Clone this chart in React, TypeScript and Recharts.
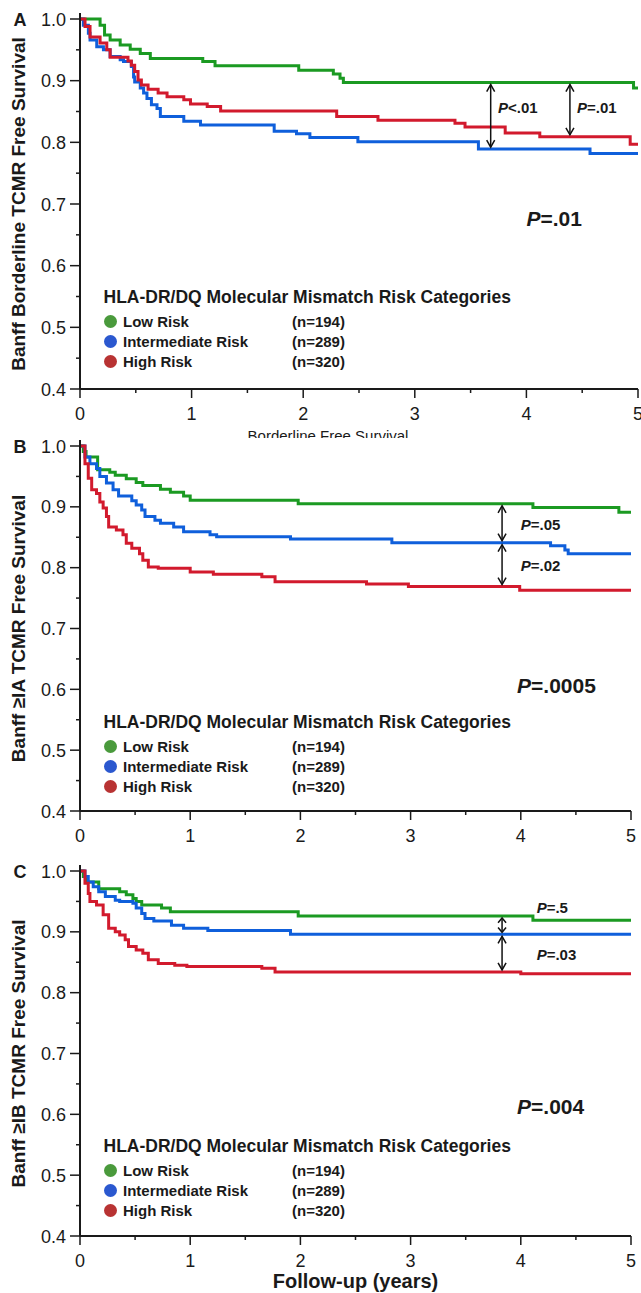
import React from 'react';
import { LineChart, Line, XAxis, YAxis, ReferenceLine, ReferenceDot, Legend } from 'recharts';

const FONT = '"Liberation Sans", Arial, Helvetica, sans-serif';
const INK = '#1a1a1a';

// groups shared by all three panels
const groups = ['Low Risk', 'Intermediate Risk', 'High Risk'];
const groupCounts = [194, 289, 320];
const lineColors = ['#1b9a22', '#0f5fdb', '#d21a2d'];
const dotColors = ['#4a9a3c', '#2b58cf', '#b83333'];

const xTicks = [0, 0.5, 1, 1.5, 2, 2.5, 3, 3.5, 4, 4.5, 5];
const yTicks = [0.4, 0.45, 0.5, 0.55, 0.6, 0.65, 0.7, 0.75, 0.8, 0.85, 0.9, 0.95, 1.0];

type Pt = [number, number];

// A: Banff borderline TCMR free survival  [years, survival]
const aLow: Pt[] = [[0, 1], [0.18, 0.99], [0.22, 0.974], [0.27, 0.966], [0.36, 0.958], [0.45, 0.951], [0.54, 0.944], [0.63, 0.936], [1.1, 0.931], [1.21, 0.924], [1.96, 0.917], [2.27, 0.911], [2.33, 0.904], [2.36, 0.897], [4.96, 0.888], [5, 0.888]];
const aInt: Pt[] = [[0, 1], [0.03, 0.99], [0.075, 0.977], [0.09, 0.966], [0.15, 0.955], [0.21, 0.95], [0.27, 0.939], [0.36, 0.934], [0.39, 0.931], [0.46, 0.923], [0.48, 0.906], [0.49, 0.898], [0.54, 0.888], [0.57, 0.88], [0.6, 0.871], [0.64, 0.861], [0.69, 0.855], [0.72, 0.842], [0.93, 0.834], [1.08, 0.828], [1.74, 0.818], [1.94, 0.814], [2.06, 0.808], [2.49, 0.801], [3.57, 0.789], [4.57, 0.782], [5, 0.782]];
const aHigh: Pt[] = [[0, 1], [0.045, 0.988], [0.09, 0.971], [0.18, 0.961], [0.24, 0.95], [0.27, 0.938], [0.43, 0.932], [0.46, 0.925], [0.49, 0.915], [0.52, 0.901], [0.55, 0.893], [0.61, 0.886], [0.7, 0.88], [0.78, 0.874], [0.93, 0.869], [0.99, 0.862], [1.14, 0.858], [1.26, 0.851], [2.3, 0.842], [2.67, 0.836], [3.36, 0.831], [3.45, 0.825], [3.81, 0.815], [4.12, 0.809], [4.93, 0.797], [5, 0.797]];
const aArrows = [{ t: 3.68, from: 0.897, to: 0.789 }, { t: 4.39, from: 0.897, to: 0.809 }];
const aPairP = [{ t: 3.745, s: 0.856, p: '<.01' }, { t: 4.453, s: 0.856, p: '=.01' }];
const aOverall = { t: 4.0, s: 0.676, p: '=.01' };

// B: Banff >= IA
const bLow: Pt[] = [[0, 1], [0.03, 0.991], [0.055, 0.982], [0.16, 0.961], [0.27, 0.957], [0.32, 0.952], [0.42, 0.946], [0.51, 0.94], [0.57, 0.935], [0.73, 0.929], [0.82, 0.924], [0.94, 0.918], [1.0, 0.911], [1.98, 0.905], [4.11, 0.899], [4.89, 0.891], [5, 0.891]];
const bInt: Pt[] = [[0, 1], [0.045, 0.982], [0.09, 0.971], [0.15, 0.963], [0.18, 0.95], [0.24, 0.939], [0.3, 0.928], [0.35, 0.918], [0.47, 0.91], [0.51, 0.903], [0.56, 0.895], [0.59, 0.884], [0.68, 0.878], [0.73, 0.873], [0.85, 0.867], [0.94, 0.859], [1.18, 0.854], [1.24, 0.851], [1.91, 0.847], [2.83, 0.841], [4.27, 0.836], [4.4, 0.829], [4.43, 0.823], [5, 0.823]];
const bHigh: Pt[] = [[0, 1], [0.045, 0.971], [0.075, 0.947], [0.106, 0.928], [0.15, 0.922], [0.18, 0.908], [0.21, 0.898], [0.24, 0.884], [0.26, 0.867], [0.33, 0.862], [0.39, 0.854], [0.42, 0.84], [0.47, 0.832], [0.54, 0.823], [0.57, 0.812], [0.62, 0.801], [0.71, 0.799], [1.0, 0.793], [1.21, 0.789], [1.65, 0.785], [1.77, 0.777], [2.6, 0.773], [2.98, 0.769], [3.99, 0.763], [5, 0.763]];
const bArrows = [{ t: 3.83, from: 0.905, to: 0.841 }, { t: 3.83, from: 0.841, to: 0.769 }];
const bPairP = [{ t: 4.0, s: 0.87, p: '=.05' }, { t: 4.0, s: 0.803, p: '=.02' }];
const bOverall = { t: 3.966, s: 0.607, p: '=.0005' };

// C: Banff >= IB
const cLow: Pt[] = [[0, 1], [0.03, 0.991], [0.06, 0.982], [0.17, 0.971], [0.36, 0.966], [0.42, 0.961], [0.48, 0.955], [0.51, 0.95], [0.56, 0.944], [0.74, 0.939], [0.82, 0.933], [1.98, 0.926], [4.11, 0.919], [5, 0.919]];
const cInt: Pt[] = [[0, 1], [0.045, 0.991], [0.075, 0.982], [0.12, 0.974], [0.17, 0.966], [0.23, 0.958], [0.32, 0.952], [0.36, 0.95], [0.48, 0.947], [0.51, 0.939], [0.56, 0.93], [0.59, 0.922], [0.67, 0.918], [0.83, 0.911], [0.94, 0.906], [1.16, 0.902], [1.91, 0.896], [5, 0.896]];
const cHigh: Pt[] = [[0, 1], [0.045, 0.98], [0.075, 0.963], [0.09, 0.95], [0.15, 0.944], [0.21, 0.928], [0.26, 0.906], [0.32, 0.9], [0.36, 0.895], [0.41, 0.887], [0.44, 0.876], [0.51, 0.87], [0.57, 0.865], [0.62, 0.854], [0.71, 0.848], [0.86, 0.845], [0.97, 0.843], [1.65, 0.84], [1.77, 0.834], [4.0, 0.831], [5, 0.831]];
const cArrows = [{ t: 3.83, from: 0.926, to: 0.896 }, { t: 3.83, from: 0.896, to: 0.834 }];
const cPairP = [{ t: 4.144, s: 0.94, p: '=.5' }, { t: 4.144, s: 0.863, p: '=.03' }];
const cOverall = { t: 3.966, s: 0.6135, p: '=.004' };

const rows = (pts: Pt[]) => pts.map(([t, s]) => ({ t, s }));
const isMajor = (v: number) => Math.abs(v * 10 - Math.round(v * 10)) < 1e-6;

const XTick = (props: any) => {
  const { x, y, payload } = props;
  const v = payload.value;
  const major = Number.isInteger(v);
  return (
    <g>
      <line x1={x} x2={x} y1={y} y2={y + (major ? 9 : 4)} stroke={INK} strokeWidth={1.5} />
      {major && (
        <text x={x} y={y + 30.5} textAnchor="middle" fontSize={18} fontFamily={FONT} fill={INK}>
          {v}
        </text>
      )}
    </g>
  );
};

const YTick = (props: any) => {
  const { x, y, payload } = props;
  const v = payload.value;
  const major = isMajor(v);
  return (
    <g>
      <line x1={x - (major ? 10 : 4)} x2={x} y1={y} y2={y} stroke={INK} strokeWidth={1.5} />
      {v > 0.999 && <line x1={x} x2={x} y1={y - 6} y2={y} stroke={INK} strokeWidth={2} />}
      {major && (
        <text x={x - 14} y={y + 6.5} textAnchor="end" fontSize={18} fontFamily={FONT} fill={INK}>
          {v.toFixed(1)}
        </text>
      )}
    </g>
  );
};

const Arrow = (props: any) => {
  const { x1, y1, y2 } = props;
  const top = Math.min(y1, y2) + 2;
  const bot = Math.max(y1, y2) - 2;
  const h = Math.min(7, (bot - top) / 3);
  return (
    <g stroke="#111" strokeWidth={1.5} fill="none">
      <line x1={x1} x2={x1} y1={top} y2={bot} />
      <polyline points={`${x1 - 4},${top + h} ${x1},${top} ${x1 + 4},${top + h}`} />
      <polyline points={`${x1 - 4},${bot - h} ${x1},${bot} ${x1 + 4},${bot - h}`} />
    </g>
  );
};

const pText = (p: string, size: number) => (props: any) => (
  <text x={props.cx} y={props.cy} dy="0.36em" fontSize={size} fontWeight="bold" fontFamily={FONT} fill={INK}>
    <tspan fontStyle="italic">P</tspan>
    {p}
  </text>
);

const RiskLegend = () => (
  <div style={{ fontFamily: FONT, fontWeight: 'bold', fontSize: 15, color: INK, whiteSpace: 'nowrap' }}>
    <div style={{ lineHeight: '18px', height: 18, marginBottom: 6, fontSize: 17.5 }}>HLA-DR/DQ Molecular Mismatch Risk Categories</div>
    {groups.map((g, i) => (
      <div key={g} style={{ display: 'flex', alignItems: 'center', height: 19.7 }}>
        <span style={{ width: 13, height: 13, borderRadius: '50%', background: dotColors[i], marginRight: 6.5, flex: 'none' }} />
        <span style={{ width: 169 }}>{g}</span>
        <span>(n={groupCounts[i]})</span>
      </div>
    ))}
  </div>
);

interface PanelProps {
  letter: string;
  yTitle: string;
  xTitle?: { text: string; bold: boolean; size: number; cx?: number };
  series: Pt[][];
  arrows: { t: number; from: number; to: number }[];
  pairP: { t: number; s: number; p: string }[];
  overall: { t: number; s: number; p: string };
  height: number;
  top: number;
  right: number;
  xAxisHeight: number;
  legendTop: number;
}

const Panel = ({ letter, yTitle, xTitle, series, arrows, pairP, overall, height, top, right, xAxisHeight, legendTop }: PanelProps) => {
  const yLabel = (props: any) => {
    const vb = props.viewBox;
    const cy = vb.y + vb.height / 2;
    return (
      <g fontFamily={FONT} fill={INK} fontWeight="bold">
        <text x={20} y={vb.y + 6.5} textAnchor="middle" fontSize={18}>
          {letter}
        </text>
        <text transform={`translate(18,${cy}) rotate(-90)`} y={6.5} textAnchor="middle" fontSize={19}>
          {yTitle}
        </text>
      </g>
    );
  };
  const xLabel = (props: any) => {
    if (!xTitle) return null;
    const vb = props.viewBox;
    const cx = xTitle.cx !== undefined ? vb.x + xTitle.cx : vb.x + vb.width / 2;
    return (
      <text x={cx} y={vb.y + 52} textAnchor="middle" fontSize={xTitle.size} fontWeight={xTitle.bold ? 'bold' : 'normal'} fontFamily={FONT} fill={INK}>
        {xTitle.text}
      </text>
    );
  };
  return (
    <LineChart width={641} height={height} margin={{ top, right, bottom: 0, left: 0 }}>
      <XAxis
        type="number"
        dataKey="t"
        domain={[0, 5]}
        ticks={xTicks}
        interval={0}
        tickSize={0}
        tickMargin={0}
        tickLine={false}
        tick={XTick}
        height={xAxisHeight}
        axisLine={{ stroke: INK, strokeWidth: 2 }}
        label={xLabel}
        allowDuplicatedCategory={false}
      />
      <YAxis
        type="number"
        dataKey="s"
        domain={[0.4, 1]}
        ticks={yTicks}
        interval={0}
        tickSize={0}
        tickMargin={0}
        tickLine={false}
        tick={YTick}
        width={80}
        axisLine={{ stroke: INK, strokeWidth: 2 }}
        label={yLabel}
      />
      {series.map((pts, i) => (
        <Line
          key={groups[i]}
          data={rows(pts)}
          dataKey="s"
          name={groups[i]}
          type="stepAfter"
          stroke={lineColors[i]}
          strokeWidth={3}
          dot={false}
          activeDot={false}
          isAnimationActive={false}
        />
      ))}
      {arrows.map((a, i) => (
        <ReferenceLine key={`arrow-${i}`} segment={[{ x: a.t, y: a.from }, { x: a.t, y: a.to }]} shape={Arrow} />
      ))}
      {pairP.map((l, i) => (
        <ReferenceDot key={`pp-${i}`} x={l.t} y={l.s} r={0} shape={pText(l.p, 15)} />
      ))}
      <ReferenceDot x={overall.t} y={overall.s} r={0} shape={pText(overall.p, 21)} />
      <Legend
        verticalAlign="middle"
        layout="horizontal"
        content={RiskLegend}
        wrapperStyle={{ left: 103.5, top: legendTop, width: 'auto' }}
      />
    </LineChart>
  );
};

export default function App() {
  return (
    <div style={{ position: 'absolute', left: 0, top: 0, width: 641, height: 1293, background: '#fff' }}>
      <div style={{ height: 438, overflow: 'hidden' }}>
        <Panel
          letter="A"
          yTitle="Banff Borderline TCMR Free Survival"
          xTitle={{ text: 'Borderline Free Survival', bold: false, size: 15, cx: 248 }}
          series={[aLow, aInt, aHigh]}
          arrows={aArrows}
          pairP={aPairP}
          overall={aOverall}
          height={438}
          top={19}
          right={3}
          xAxisHeight={49}
          legendTop={288}
        />
      </div>
      <Panel
        letter="B"
        yTitle="Banff ≥IA TCMR Free Survival"
        series={[bLow, bInt, bHigh]}
        arrows={bArrows}
        pairP={bPairP}
        overall={bOverall}
        height={412}
        top={8}
        right={10}
        xAxisHeight={39}
        legendTop={275}
      />
      <Panel
        letter="C"
        yTitle="Banff ≥IB TCMR Free Survival"
        xTitle={{ text: 'Follow-up (years)', bold: true, size: 20 }}
        series={[cLow, cInt, cHigh]}
        arrows={cArrows}
        pairP={cPairP}
        overall={cOverall}
        height={443}
        top={21}
        right={10}
        xAxisHeight={57}
        legendTop={287}
      />
    </div>
  );
}
